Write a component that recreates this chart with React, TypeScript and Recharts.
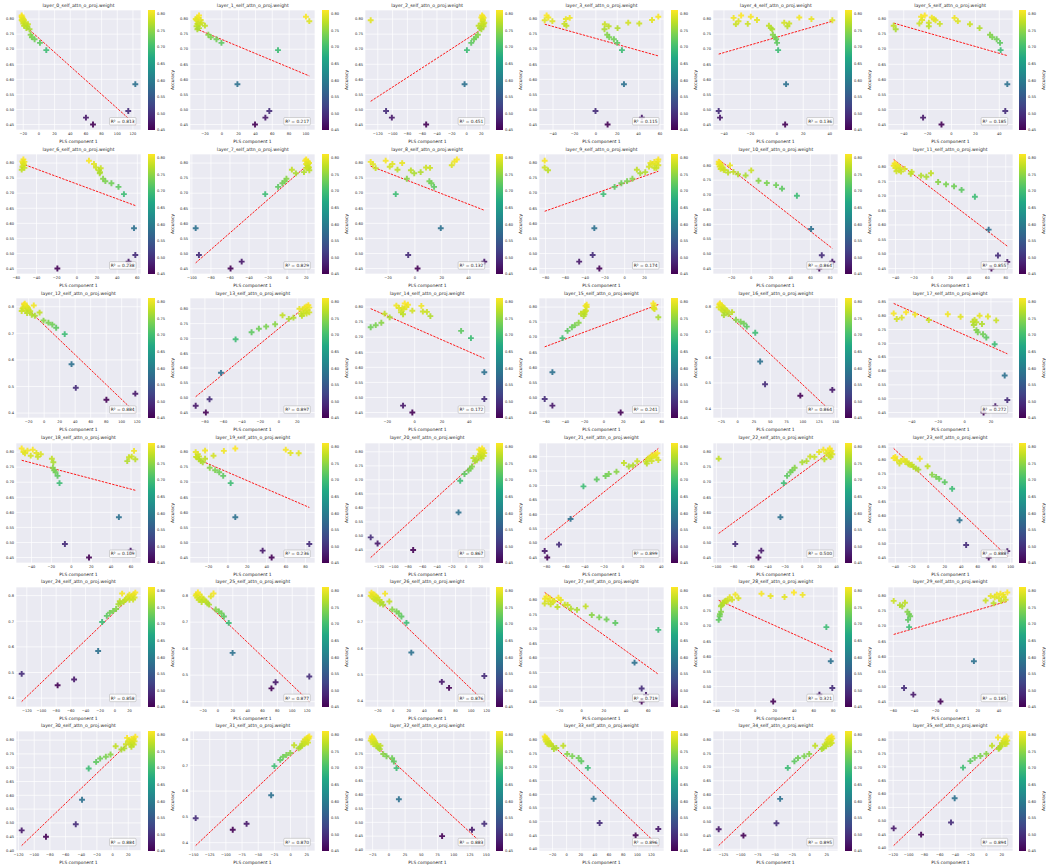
import React from 'react';
import {
  ScatterChart, Scatter, XAxis, YAxis, ZAxis, CartesianGrid, ReferenceLine, Cell,
  ComposedChart, ReferenceArea,
} from 'recharts';

// ---------------- data ----------------
// Accuracy of each of the 25 models (shared by all panels)
const ACCURACY = [0.812, 0.808, 0.805, 0.804, 0.800, 0.797, 0.796, 0.793, 0.788, 0.785, 0.784, 0.783, 0.778, 0.776, 0.770, 0.766, 0.748, 0.740, 0.733, 0.721, 0.697, 0.584, 0.495, 0.473, 0.450];

// PLS component 1 of each model, per layer
const PLS_L00 = [-22, -22, -21, -21.5, -20, -22, -19, -21, -18, -20, -17, -14, -19, -15, -16, -12, -10.6, -9, -5.5, 1.3, 9.4, 123, 114, 60, 69];
const PLS_L01 = [-27, 100, -29, -28, -31, -25, -30, 104, -24, -28, -29, -26, -20, -30, -27, -29, -16, -13, -6.3, -0.4, 66.8, 18.6, 56.5, 51.8, 39.5];
const PLS_L02 = [21, 22, 20, 23, 21.6, 22, -129.6, 21.6, 24, 20, 23, 22, 16.3, 23, 18, 20, 15.3, 12.6, 10, 6.3, 0.5, -2.7, -108.8, -101, -54.6];
const PLS_L03 = [-46, 58.4, -44.4, -24.4, -28, 52.5, -47.8, -40.6, 30.3, 40.6, -29.4, 8.4, -27.5, 12, 20.3, 8.1, 10.6, 12.5, 16.9, 20, 24.4, 26.3, -0.3, 43, 11];
const PLS_L04 = [-27, -19.7, 17, -32.7, 26.2, -15, 42, -29, 5.6, 9.4, -22, -31, -6, 8, -4.5, -3.5, -3, -1.5, -0.5, 0.2, 1, 7, -44, -43, 6.3];
const PLS_L05 = [-22.4, -25.5, -16.5, 2.5, -14.8, -24.6, -13.4, 5.3, -19, -26.9, -9.8, 15.4, -48.4, -19, 23.5, -46.7, 32.2, 34.1, 37.8, 40.6, 41.1, 46.7, 45, -23.8, -8.4];
const PLS_L06 = [-53, 12, -54, -52, -53.5, 17, -52.5, -53, -54, 19, -52, 23.7, -54.7, 22, 23, 22.7, 26, 28.3, 34.3, 41.3, 46.7, 56.7, 58, 51.3, -19.3];
const PLS_L07 = [20, 19, 22, 21, 23, 20, 22, 21, 22, 23, 20, 22, 5, 23.3, 17.7, 9.2, -0.7, -2.5, -5, -9.5, -23, -96, -92.6, -47.7, -59.4];
const PLS_L08 = [31.3, -21.8, 29.5, -33, -9.5, -16.8, -31.3, 27.5, -18.8, 8.3, 11.3, -29.3, -13, -3, 4.3, -0.5, -6, 10.8, 12.3, 14.3, -14.3, 19.3, -5, 51.8, 2];
const PLS_L09 = [34, -80.9, 33.4, 30, 26, 32, 28, 34, 24.6, -80.9, 30, 32, 12.3, -77.5, 20.8, 15.7, 7.8, 2.4, -3.4, -10.2, -21.5, -30.7, -32.4, -46, -25.6];
const PLS_L10 = [-33, -32, -31, -33, -21.5, -30, -32, -29, -31, -28, -27, 0, -18, -23.5, -13.4, -5.7, 7.4, 15.8, 25.2, 31.2, 46.3, 60.7, 71.5, 82.2, 69];
const PLS_L11 = [-41, -40, -38, -42, -37, -35, -40, -30, -36, -39, -34, -22.4, -1.4, -23.4, -12.2, -6.4, 6.4, 15, 23.7, 31.9, 46.4, 61.4, 71.5, 81.7, 64.4];
const PLS_L12 = [-25, -26, -13.4, -24, -22, -27, -21, -28, -20, -24, -29, -18, -5.9, -22, -16, -12, -0.8, 5.5, 10.5, 15.5, 26.5, 35.3, 40.8, 117.6, 80.3];
const PLS_L13 = [32, 30, 28, 33, 22.3, 26, 31, 29, 33, 27, 30, 24, 4, 25, 15.8, 10.8, -4, -13.7, -21.6, -29.5, -46.8, -62.6, -75, -90, -79];
const PLS_L14 = [-7.3, -4.9, -13.4, 4.9, -6, -11.5, -9, -8, -1.7, 6, 9, -10, -22, -8.5, 11.5, -18.3, -24.4, -28.5, -32.2, 34, 41.2, 51, 51, -8.5, -1.7];
const PLS_L15 = [51.2, -17.8, 52, -19, -17.8, 51.5, 52, 52.5, -18.5, -19.5, -20, -21, -23.7, -20, -20.9, 56.4, -26.1, -30, -33.1, -37.6, -42.9, -53.3, -61.3, -53.3, 17.4];
const PLS_L16 = [-27, -28, -26, -25, -24, -29, -22, -20, -25, -18, -23, -16, -8.5, -20, -14, -21, -2.5, 4.5, 9.5, 14, 27, 34.5, 42, 145, 96];
const PLS_L17 = [-44.3, -53.7, -12.7, -37.5, 11.4, 17.7, -3, -47.6, -51.4, 7.6, -27.1, 24, 6.3, 8.9, 13.2, 7, 9, 10, 14, 16.5, 22.8, 30.4, 32.4, 23.3, 14.4];
const PLS_L18 = [-49.8, -38.7, -44, 63, -48, -35, -46.5, -30.6, -40.7, 60.6, -33.6, 57.9, -19.5, 64.3, 56.2, -18, -18.5, -17.2, -15.8, -13.8, -11.8, 47.8, -6.4, 59.6, 17.8];
const PLS_L19 = [7.6, 59.7, -23.6, -4.2, -33.3, 64.6, 73, -31, -14.9, -29.9, -33, -32, -23.6, -30, -28, -26, -18.8, -13.2, -9, -4.9, 2.8, 7.6, 84, 35.8, 45.1];
const PLS_L20 = [22, 18, 24, 20, 23, 21, 25, 19, 22, 24, 17, 20, 10, 21, 14.6, 12, 8, 6, 3.2, -2.3, -8.2, -10.5, -131.5, -122, -73];
const PLS_L21 = [36, 34, 33, 30, 32, 35, 28, 26, 37, 30, 14.9, 24, 1, 25, 10.5, 6.1, -6.8, -14.9, -18.3, -27.5, -41.4, -54.9, -67, -82, -79.3];
const PLS_L22 = [32, 24.6, 30, 34, 19.6, 33, 28, 35, 31, 9.2, 14.2, 33, -97.3, 25.8, 5, 0, -8.8, -11.5, -13.8, -17.7, -21.5, -25.4, -78, -47.7, -51];
const PLS_L23 = [-40, -42, -10.3, -30, -38, -33, -26, -28, -35, -24, -20, -22, -0.8, -18, -15, -12, 4.6, 9.5, 13.3, 20, 29, 38, 46, 96, 73.4];
const PLS_L24 = [28, 10, 26, 20, 24, 18, 22, 27, 16, 25, 20, 14, 6.8, 12, 8, 5, 1.8, -2.3, -6.8, -10.9, -17.3, -22.7, -127, -55.5, -78];
const PLS_L25 = [-27, -6, -29, -25, -30, -9.6, -22, -28, -24, -20, -26, -18, -16, -22, -14, -12, -3, 1.3, 4.8, 8, 14.5, 19.7, 123, 77.6, 72];
const PLS_L26 = [-28, -10.5, -26, -24, -29, -22, -27, -20, -25, -23, -18, -21, -5, -15, -17, -13, -1.3, 4.2, 7.2, 10.5, 17, 23.2, 117, 62.4, 71.7];
const PLS_L27 = [-31.8, -20.9, -28.5, -33, -18.8, -24.8, -30, -26, -33.3, -27.9, -15.2, -12.7, 3.6, -21.8, -9.7, -4.2, 9.1, 15.8, 22.4, 30.3, 69, 47.6, 54, 57.9, 54];
const PLS_L28 = [39.7, 6.5, -20.2, 48.6, 15.8, 30.1, -26, -17.1, -23.6, -29.8, -28, -31, -33.2, -32, -34.2, -35, -34.9, -36, -36.3, -37.3, 72.9, 77.4, 79, 65.8, 18.5];
const PLS_L29 = [47.9, 41.4, 38, 44, 32.2, 44.6, 36, 40, 46.3, 27.4, -59.6, 42, -48.9, 34.9, -53.7, -51.5, -46.6, -45, -44, -46, -45, 16.3, -49.8, -41, -15.3];
const PLS_L30 = [29, 18.5, 27, 24, 26, 20, 28, 22, 25, 17, 27, 23, 3.9, 24, 15, 11.2, -2.6, -8.6, -15.9, -21, -30.5, -39, -47, -116, -85];
const PLS_L31 = [29, 27, 25, 28, 22, 26, 24, 20, 27, 23, 18, 21, 5.5, 17.6, 15, 12.5, -0.5, -6.5, -11.6, -16, -25, -30, -146.7, -68, -89.4];
const PLS_L32 = [-26, -25, -27, -24, -23, -28, -22, -25, -21, -20, -24, -18, -13, -19, -16, -14, -8.7, -3.6, 5, 7.7, 11.8, 15.4, 147, 128, 82];
const PLS_L33 = [-31, -30, -29, -28, -30, -27, -26, -29, -24, -27, -22, -25, -4.7, -20, -14.6, -18, 0.9, 8, 17, 20.8, 30, 38.2, 46.7, 129.7, 97.6];
const PLS_L34 = [32, 30, 28, 33, 26, 31, 29, 27, 32, 25, 30, 22, 8.1, 24, 20, 17.7, -0.5, -7.7, -16.8, -22, -31.6, -42.7, -48, -131.8, -95.9];
const PLS_L35 = [26, 15, 25, 23, 24, 27, 22, 25, 20, 26, 24, 21, 7.3, 18, 17, 15.9, 0, -7.7, -15, -20.6, -30, -40.8, -45.5, -119.3, -84];

const PLS_BY_LAYER = [
  PLS_L00, PLS_L01, PLS_L02, PLS_L03, PLS_L04, PLS_L05,
  PLS_L06, PLS_L07, PLS_L08, PLS_L09, PLS_L10, PLS_L11,
  PLS_L12, PLS_L13, PLS_L14, PLS_L15, PLS_L16, PLS_L17,
  PLS_L18, PLS_L19, PLS_L20, PLS_L21, PLS_L22, PLS_L23,
  PLS_L24, PLS_L25, PLS_L26, PLS_L27, PLS_L28, PLS_L29,
  PLS_L30, PLS_L31, PLS_L32, PLS_L33, PLS_L34, PLS_L35,
];

// R^2 labels as printed in each panel
const R2_LABELS = [
  '0.813', '0.217', '0.451', '0.115', '0.136', '0.185',
  '0.238', '0.829', '0.132', '0.174', '0.864', '0.855',
  '0.884', '0.897', '0.172', '0.241', '0.864', '0.272',
  '0.109', '0.236', '0.867', '0.899', '0.500', '0.888',
  '0.858', '0.877', '0.876', '0.719', '0.321', '0.185',
  '0.884', '0.870', '0.883', '0.896', '0.895', '0.894',
];

const TITLES = PLS_BY_LAYER.map((_, i) => `layer_${i}_self_attn_o_proj.weight`);
const COLORBAR_TICKS = [0.45, 0.50, 0.55, 0.60, 0.65, 0.70, 0.75, 0.80];

// ---------------- styling helpers ----------------
const FIG_W = 1046;
const FIG_H = 865;
const CELL_W = FIG_W / 6;
const CELL_H = FIG_H / 6;
const TXT = '#262626';
const FONT = 'DejaVu Sans, Liberation Sans, sans-serif';

const VIRIDIS = ['#440154', '#482475', '#414487', '#355f8d', '#2a788e', '#21918c', '#22a884', '#44bf70', '#7ad151', '#bddf26', '#fde725'];

function hexToRgb(h: string) {
  return [parseInt(h.slice(1, 3), 16), parseInt(h.slice(3, 5), 16), parseInt(h.slice(5, 7), 16)];
}
function viridis(t: number) {
  const c = Math.max(0, Math.min(1, t));
  const p = c * (VIRIDIS.length - 1);
  const i = Math.min(Math.floor(p), VIRIDIS.length - 2);
  const f = p - i;
  const a = hexToRgb(VIRIDIS[i]);
  const b = hexToRgb(VIRIDIS[i + 1]);
  const m = a.map((v, k) => Math.round(v + (b[k] - v) * f));
  return `rgb(${m[0]},${m[1]},${m[2]})`;
}

const ACC_MIN = Math.min(...ACCURACY);
const ACC_MAX = Math.max(...ACCURACY);

function niceTicks(lo: number, hi: number, nbins = 9) {
  const raw = (hi - lo) / nbins;
  const mag = Math.pow(10, Math.floor(Math.log10(raw)));
  const steps = [1, 2, 2.5, 5, 10].map((s) => s * mag);
  const step = steps.find((s) => s >= raw - 1e-12) || steps[steps.length - 1];
  const ticks: number[] = [];
  const k0 = Math.ceil(lo / step - 1e-9);
  for (let k = k0; k * step <= hi + 1e-9; k++) ticks.push(parseFloat((k * step).toFixed(10)));
  let dec = 0;
  while (dec < 6 && Math.abs(Math.round(step * Math.pow(10, dec)) - step * Math.pow(10, dec)) > 1e-6) dec++;
  return { ticks, dec };
}

function fmt(v: number, dec: number) {
  const s = (Math.abs(v) < 1e-12 ? 0 : v).toFixed(dec);
  return s.replace('-', '\u2212');
}

function Panel({ idx }: { idx: number }) {
  const row = Math.floor(idx / 6);
  const col = idx % 6;
  const xs = PLS_BY_LAYER[idx];
  const pts = xs.map((x, i) => ({ x, y: ACCURACY[i], z: 1 }));
  const n = xs.length;
  const mx = xs.reduce((s, v) => s + v, 0) / n;
  const my = ACCURACY.reduce((s, v) => s + v, 0) / n;
  let sxy = 0;
  let sxx = 0;
  xs.forEach((x, i) => {
    sxy += (x - mx) * (ACCURACY[i] - my);
    sxx += (x - mx) * (x - mx);
  });
  const slope = sxy / sxx;
  const icpt = my - slope * mx;
  const xmin = Math.min(...xs);
  const xmax = Math.max(...xs);
  const y0 = icpt + slope * xmin;
  const y1 = icpt + slope * xmax;
  const xr = xmax - xmin;
  const xlo = xmin - 0.05 * xr;
  const xhi = xmax + 0.05 * xr;
  const ymn = Math.min(ACC_MIN, y0, y1);
  const ymx = Math.max(ACC_MAX, y0, y1);
  const yr = ymx - ymn;
  const ylo = ymn - 0.05 * yr;
  const yhi = ymx + 0.05 * yr;
  const xt = niceTicks(xlo, xhi);
  const yt = niceTicks(ylo, yhi);
  const left = col * CELL_W;
  const top = row * CELL_H;
  const gid = `cbar-grad-${idx}`;

  return (
    <>
      <div style={{ position: 'absolute', left, top, width: 174, height: 144 }}>
        <ScatterChart width={174} height={144} margin={{ top: 10, right: 33, bottom: 0, left: 4 }}>
          <CartesianGrid fill="#EAEAF2" stroke="#ffffff" strokeWidth={0.7} />
          <XAxis
            type="number"
            dataKey="x"
            domain={[xlo, xhi]}
            ticks={xt.ticks}
            allowDataOverflow
            interval={0}
            tickLine={false}
            axisLine={false}
            height={14}
            tickSize={2}
            tickMargin={0}
            tick={{ fontSize: 3.6, fill: TXT }}
            tickFormatter={(v: number) => fmt(v, xt.dec)}
            label={{ value: 'PLS component 1', position: 'insideBottom', offset: 1.5, fontSize: 4.4, fill: TXT }}
          />
          <YAxis
            type="number"
            dataKey="y"
            domain={[ylo, yhi]}
            ticks={yt.ticks}
            allowDataOverflow
            interval={0}
            tickLine={false}
            axisLine={false}
            width={12}
            tickSize={1}
            tickMargin={1}
            tick={{ fontSize: 3.6, fill: TXT }}
            tickFormatter={(v: number) => fmt(v, yt.dec)}
          />
          <ZAxis type="number" dataKey="z" range={[19, 19]} />
          <Scatter data={pts} shape="cross" isAnimationActive={false}>
            {pts.map((p, i) => (
              <Cell key={i} fill={viridis((p.y - ACC_MIN) / (ACC_MAX - ACC_MIN))} fillOpacity={0.9} />
            ))}
          </Scatter>
          <ReferenceLine
            segment={[{ x: xmin, y: y0 }, { x: xmax, y: y1 }]}
            stroke="#ff0000"
            strokeWidth={0.9}
            strokeDasharray="2.4 1.2"
            ifOverflow="visible"
          />
        </ScatterChart>
      </div>
      <div style={{ position: 'absolute', left: left + 147.5, top, width: 27, height: 144 }}>
        <ComposedChart width={27} height={144} data={[{ x: 0 }, { x: 1 }]} margin={{ top: 10, right: 0, bottom: 14, left: 0 }}>
          <defs>
            <linearGradient id={gid} x1="0" y1="1" x2="0" y2="0">
              {VIRIDIS.map((c, i) => (
                <stop key={i} offset={i / (VIRIDIS.length - 1)} stopColor={c} />
              ))}
            </linearGradient>
          </defs>
          <XAxis type="number" dataKey="x" domain={[0, 1]} hide />
          <YAxis
            type="number"
            orientation="right"
            domain={[ACC_MIN, ACC_MAX]}
            ticks={COLORBAR_TICKS}
            allowDataOverflow
            interval={0}
            tickLine={false}
            axisLine={false}
            width={20}
            tickSize={1}
            tickMargin={1}
            tick={{ fontSize: 3.6, fill: TXT, textAnchor: 'start' }}
            tickFormatter={(v: number) => v.toFixed(2)}
            label={{ value: 'Accuracy', angle: -90, position: 'insideRight', offset: 2.5, fontSize: 4.4, fill: TXT }}
          />
          <ReferenceArea x1={0} x2={1} y1={ACC_MIN} y2={ACC_MAX} fill={`url(#${gid})`} fillOpacity={1} stroke="none" ifOverflow="visible" />
        </ComposedChart>
      </div>
    </>
  );
}

export default function App() {
  return (
    <div style={{ position: 'absolute', left: 0, top: 0, width: FIG_W, height: FIG_H, background: '#ffffff', fontFamily: FONT, overflow: 'hidden' }}>
      {PLS_BY_LAYER.map((_, i) => (
        <Panel key={i} idx={i} />
      ))}
      <svg width={FIG_W} height={FIG_H} style={{ position: 'absolute', left: 0, top: 0, pointerEvents: 'none' }}>
        {TITLES.map((t, i) => {
          const x = (i % 6) * CELL_W;
          const y = Math.floor(i / 6) * CELL_H;
          return (
            <g key={i} fontFamily={FONT}>
              <text x={x + 78.5} y={y + 6.6} textAnchor="middle" fontSize={4.6} fill={TXT}>{t}</text>
              <rect x={x + 109.5} y={y + 117.5} width={26.5} height={7.5} rx={1} fill="#ffffff" fillOpacity={0.85} stroke="#9a9a9a" strokeWidth={0.4} />
              <text x={x + 122.75} y={y + 122.9} textAnchor="middle" fontSize={4.4} fill={TXT}>{`R\u00B2 = ${R2_LABELS[i]}`}</text>
            </g>
          );
        })}
      </svg>
    </div>
  );
}
